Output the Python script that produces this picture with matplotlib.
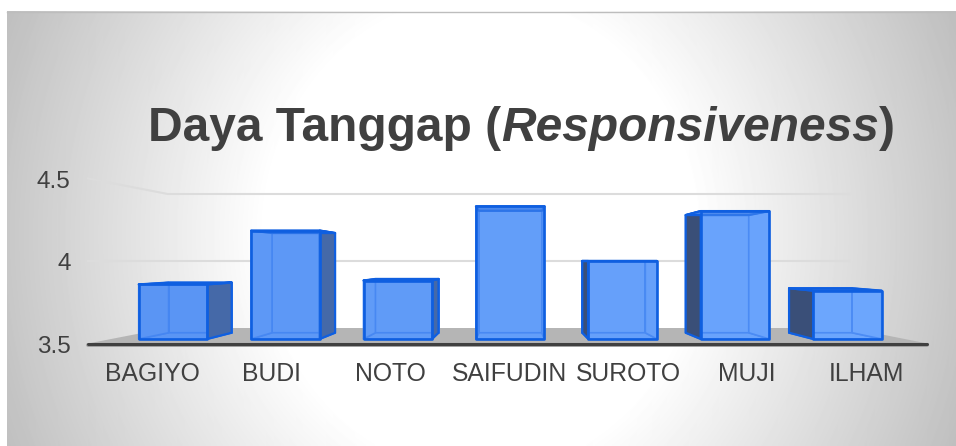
import matplotlib
matplotlib.use("Agg")
import matplotlib.pyplot as plt
from matplotlib.colors import to_rgba
from matplotlib.patches import Polygon, Rectangle
import numpy as np

plt.rcParams['font.family'] = ['Liberation Sans', 'DejaVu Sans']

categories = ["BAGIYO", "BUDI", "NOTO", "SAIFUDIN", "SUROTO", "MUJI", "ILHAM"]
values = [3.85, 4.195, 3.875, 4.35, 4.00, 4.32, 3.81]
tick_values = [3.5, 4.0, 4.5]
tick_labels = ["3.5", "4", "4.5"]
grid_values = [4.0, 4.5]

W, H = 956, 446
BASE = 3.5
PX_X, PX_Y = 112.4, 156.0   # pixels per category / per unit of value
X0, Y4 = 173, 261           # pixel of category 0 and of value 4

# simple perspective: everything shrinks towards one vanishing point
VX, VY = 3.02, 4.0
S_FRONT, S_BACK = 1.0, 0.92      # bar faces
S_WALL_F, S_WALL_B = 1.058, 0.859  # floor and walls
HALF = 0.305
XL, XR = -0.55, 6.51


def project(x, v, s):
    return VX + s * (x - VX), VY + s * (v - VY)


def quad(ax, pts, face, edge, lw=1.6, z=3):
    ax.add_patch(Polygon(pts, closed=True, facecolor=face, edgecolor=edge, linewidth=lw,
                         joinstyle="round", zorder=z))


fig = plt.figure(figsize=(W / 100, H / 100), dpi=100, facecolor="white")
ax = fig.add_axes([0, 0, 1, 1])
xlim = (-X0 / PX_X, (W - X0) / PX_X)
ylim = (4 - (H - Y4) / PX_Y, 4 + Y4 / PX_Y)

# panel background, radial grey to white
px, py = np.meshgrid(np.arange(W) + 0.5, np.arange(H) + 0.5)
d = np.sqrt(((px - 480) / 215) ** 2 + ((py - 235) / 235) ** 2)
shade = np.clip(255 - 46 * (d - 1), 192, 255) / 255
panel = ax.imshow(shade, cmap="gray", vmin=0, vmax=1, extent=(*xlim, ylim[0], ylim[1]),
                  origin="upper", aspect="auto", zorder=0, interpolation="bilinear")
panel_box = Rectangle((xlim[0] + 6.5 / PX_X, ylim[0]), (W - 6.5) / PX_X, (H - 11) / PX_Y,
                      transform=ax.transData, fill=False, edgecolor="none")
ax.add_patch(panel_box)
panel.set_clip_path(panel_box)
ax.plot([xlim[0] + 6.5 / PX_X, xlim[1]], [ylim[1] - 11.5 / PX_Y] * 2, color="#bdbdbd", lw=1, zorder=1)

# floor
floor = [project(XL, BASE, S_WALL_F), project(XR, BASE, S_WALL_F),
         project(XR, BASE, S_WALL_B), project(XL, BASE, S_WALL_B)]
ax.add_patch(Polygon(floor, closed=True, facecolor="#b5b5b5", edgecolor="none", zorder=1))

# gridlines on back wall and left wall
for v in grid_values:
    a, b, c = project(XL, v, S_WALL_F), project(XL, v, S_WALL_B), project(XR, v, S_WALL_B)
    ax.plot([a[0], b[0], c[0]], [a[1], b[1], c[1]], color="#dcdcdc", lw=1.5, zorder=2)

# axis line
a, b = project(XL, BASE, S_WALL_F), project(XR, BASE, S_WALL_F)
ax.plot([a[0], b[0]], [a[1] - 1 / PX_Y] * 2, color="#a0a0a0", lw=2.8, solid_capstyle="round", zorder=2)
ax.plot([a[0], b[0]], [a[1], b[1]], color="#404040", lw=2.2, solid_capstyle="round", zorder=2)

# bars, the blue gets a bit lighter from left to right
EDGE = "#0f5fe0"
INNER = "#3b7ff0"
LEFT_BLUE, RIGHT_BLUE = np.array(to_rgba("#5a95f4")), np.array(to_rgba("#6ca6fd"))
for i, v in enumerate(values):
    face = tuple(LEFT_BLUE + (RIGHT_BLUE - LEFT_BLUE) * i / (len(values) - 1))
    l, r = i - HALF, i + HALF
    fbl, fbr = project(l, BASE, S_FRONT), project(r, BASE, S_FRONT)
    ftl, ftr = project(l, v, S_FRONT), project(r, v, S_FRONT)
    bbl, bbr = project(l, BASE, S_BACK), project(r, BASE, S_BACK)
    btl, btr = project(l, v, S_BACK), project(r, v, S_BACK)

    # inside of the box, seen through the front
    quad(ax, [bbl, bbr, btr, btl], face, INNER, lw=1.4, z=3)
    quad(ax, [fbl, fbr, bbr, bbl], face, INNER, lw=1.2, z=3)
    quad(ax, [fbl, bbl, btl, ftl], face, INNER, lw=1.2, z=3)
    quad(ax, [fbr, bbr, btr, ftr], face, INNER, lw=1.2, z=3)
    quad(ax, [ftl, ftr, btr, btl], face, INNER, lw=1.2, z=3)
    if bbr[0] > fbr[0] + 0.005:
        quad(ax, [fbr, bbr, btr, ftr], "#4569a8", EDGE, lw=1.6, z=4)
    if bbl[0] < fbl[0] - 0.005:
        quad(ax, [fbl, bbl, btl, ftl], "#3a4f78", EDGE, lw=1.6, z=4)
    quad(ax, [ftl, ftr, btr, btl], "#3f7fe8", EDGE, lw=1.6, z=4)
    quad(ax, [fbl, fbr, ftr, ftl], face[:3] + (0.35,), EDGE, lw=1.9, z=5)

# tick labels
for v, lab in zip(tick_values, tick_labels):
    p = project(XL, v, S_WALL_F)
    ax.annotate(lab, xy=p, xytext=(-12.5, -2.2), textcoords="offset points", ha="right", va="center",
                fontsize=17.5, color="#404040", zorder=6)

for i, lab in enumerate(categories):
    p = project(i, BASE, S_WALL_F)
    ax.annotate(lab, xy=p, xytext=(-0.5, -22), textcoords="offset points", ha="center", va="center",
                fontsize=17.8, color="#404040", zorder=6)

# title in three pieces, the middle one italic
renderer = fig.canvas.get_renderer()
tx = 148 / W
for part, style in [("Daya Tanggap (", "normal"), ("Responsiveness", "italic"), (")", "normal")]:
    t = fig.text(tx, 1 - 141 / H, part, fontsize=34.5, fontweight="bold", style=style,
                 color="#404040", ha="left", va="baseline", zorder=6)
    tx = t.get_window_extent(renderer).x1 / W

ax.set_xlim(*xlim)
ax.set_ylim(*ylim)
ax.axis("off")

fig.savefig("out.png", dpi=100, facecolor="white")
plt.close(fig)
